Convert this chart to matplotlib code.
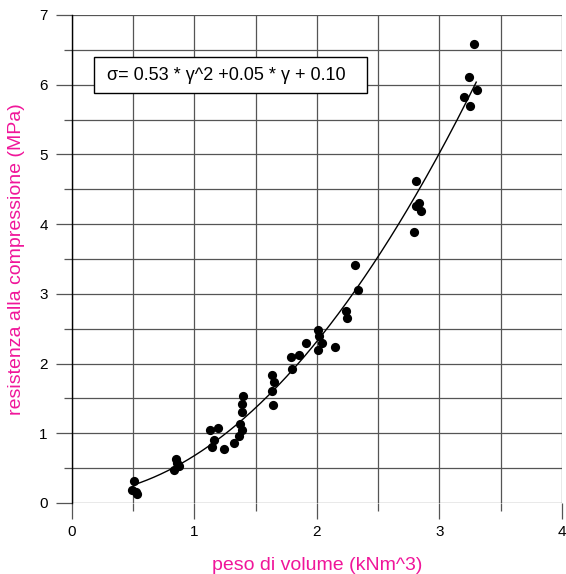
import numpy as np
import matplotlib
matplotlib.use("Agg")
import matplotlib.pyplot as plt
from matplotlib.ticker import MultipleLocator
from matplotlib.patches import Rectangle

plt.rcParams['font.family'] = ['Liberation Sans', 'DejaVu Sans']

# peso di volume vs resistenza alla compressione
peso = [0.51, 0.49, 0.52, 0.53,
        0.85, 0.86, 0.835, 0.875,
        1.125, 1.19, 1.16, 1.14, 1.24,
        1.40, 1.39, 1.39, 1.37, 1.39, 1.36, 1.32,
        1.635, 1.65, 1.635, 1.64,
        1.80, 1.79, 1.85, 1.91,
        2.01, 2.02, 2.04, 2.01, 2.15,
        2.24, 2.245, 2.335, 2.31,
        2.805, 2.83, 2.81, 2.85, 2.79,
        3.28, 3.24, 3.31, 3.20, 3.25]
resist = [0.31, 0.18, 0.16, 0.13,
          0.63, 0.57, 0.48, 0.53,
          1.04, 1.08, 0.91, 0.80, 0.77,
          1.54, 1.42, 1.30, 1.14, 1.04, 0.96, 0.86,
          1.83, 1.73, 1.60, 1.41,
          1.92, 2.09, 2.12, 2.30,
          2.48, 2.40, 2.30, 2.19, 2.24,
          2.75, 2.66, 3.05, 3.42,
          4.62, 4.30, 4.26, 4.19, 3.89,
          6.58, 6.11, 5.93, 5.82, 5.70]

# fitted polynomial shown in the box
coef = [0.53, 0.05, 0.10]
fit_range = [0.5, 3.3]

pink = '#f0169a'
gridc = '#555555'

fig = plt.figure(figsize=(5.66, 5.74), dpi=100)
ax = fig.add_axes([0.1272, 0.1237, 0.8657, 0.8502])

xx = np.linspace(fit_range[0], fit_range[1], 200)
ax.plot(xx, np.polyval(coef, xx), color='black', lw=1, zorder=3)
ax.scatter(peso, resist, s=44, color='black', zorder=4, linewidths=0)

ax.set_xlim(0, 4)
ax.set_ylim(0, 7)
ax.xaxis.set_major_locator(MultipleLocator(1))
ax.xaxis.set_minor_locator(MultipleLocator(0.5))
ax.yaxis.set_major_locator(MultipleLocator(1))
ax.yaxis.set_minor_locator(MultipleLocator(0.5))
ax.grid(True, which='both', color=gridc, lw=0.9, zorder=0)
ax.set_axisbelow(True)

for s in ['top', 'right', 'bottom']:
    ax.spines[s].set_visible(False)
ax.spines['left'].set_color('black')
ax.spines['left'].set_linewidth(1.0)

ax.tick_params(which='major', direction='out', length=11.5, width=0.9,
               color=gridc, labelsize=11, pad=4)
ax.tick_params(which='minor', direction='out', length=5.5, width=0.9,
               color=gridc)
ax.tick_params(axis='y', which='major', pad=6)

ax.set_xlabel('peso di volume (kNm^3)', color=pink, fontsize=14, labelpad=13)
ax.set_ylabel('resistenza alla compressione (MPa)', color=pink, fontsize=14,
              labelpad=10)

# equation box
ax.add_patch(Rectangle((0.045, 0.840), 0.557, 0.074, transform=ax.transAxes,
                       fc='white', ec='black', lw=1, zorder=5))
ax.text(1.257, 6.13, 'σ= 0.53 * γ^2 +0.05 * γ + 0.10', fontsize=13,
        ha='center', va='center', zorder=6)

fig.savefig('out.png', dpi=100)
